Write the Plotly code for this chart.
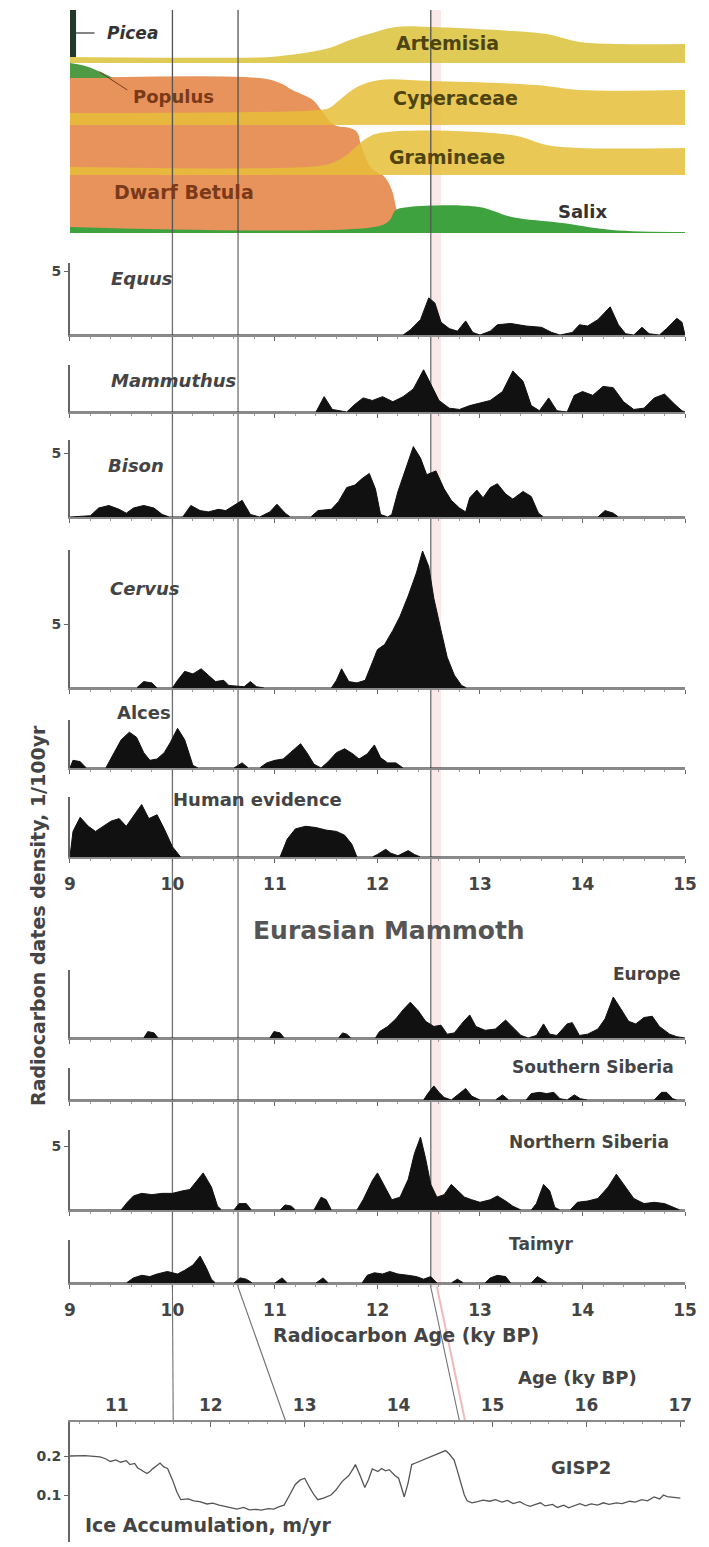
import plotly.graph_objects as go

# ---------------- data ----------------
c14_ticks = [9, 10, 11, 12, 13, 14, 15]
cal_ticks = [11, 12, 13, 14, 15, 16, 17]

# --- pollen diagram (age in 14C ky BP, thickness in diagram units) ---
betula_age = [9.0, 10.85, 11.05, 11.17, 11.37, 11.45, 11.58, 11.73, 11.80, 11.84, 11.94, 12.07, 12.14, 12.18, 12.21, 12.24]
betula_thk = [155, 155, 150, 143, 133, 123, 108, 105, 101, 88, 65, 56, 43, 26, 11, 0]

cyper_age = [9.0, 11.43, 11.53, 11.63, 11.80, 12.02, 12.51, 13.55, 13.97, 15.0]
cyper_thk = [12, 15, 17, 25, 38, 45, 44, 40, 35, 35]

gram_age = [9.0, 11.43, 11.58, 11.70, 11.87, 12.02, 13.31, 13.65, 13.97, 15.0]
gram_thk = [8, 9, 13, 20, 35, 42, 40, 30, 27, 27]

artem_age = [9.0, 10.95, 11.14, 11.34, 11.53, 11.73, 11.95, 12.18, 12.51, 13.31, 13.65, 13.97, 14.36, 15.0]
artem_thk = [6, 6, 8, 11, 15, 23, 30, 36, 36, 32, 29, 21, 19, 19]

salix_age = [9.0, 12.02, 12.12, 12.18, 12.31, 12.99, 13.31, 13.80, 14.29, 15.0]
salix_thk = [6, 7, 13, 23, 26, 26, 16, 10, 3, 1]

populus_age = [9.0, 9.15, 9.30, 9.42]
populus_thk = [15, 12, 6, 0]

picea_age = [9.0, 9.06]
picea_thk = [47, 47]

# --- radiocarbon date densities (dates / 100 yr) ---
equus_age = [9.0, 12.25, 12.32, 12.42, 12.5, 12.56, 12.62, 12.7, 12.78, 12.86, 12.93, 13.0, 13.1, 13.17, 13.3, 13.45, 13.6, 13.7, 13.78, 13.9, 13.97, 14.05, 14.15, 14.27, 14.35, 14.42, 14.5, 14.58, 14.65, 14.75, 14.82, 14.92, 14.97, 15.0]
equus_val = [0, 0, 0.4, 1.2, 2.9, 2.5, 1.0, 0.5, 0.3, 1.1, 0.2, 0, 0.3, 0.8, 0.9, 0.7, 0.6, 0.2, 0, 0.2, 0.8, 0.7, 1.2, 2.2, 0.8, 0.1, 0, 0.6, 0.1, 0, 0.5, 1.3, 1.0, 0]

mammuthus_age = [9.0, 11.4, 11.48, 11.56, 11.7, 11.78, 11.86, 11.95, 12.05, 12.15, 12.25, 12.35, 12.45, 12.52, 12.6, 12.7, 12.8, 12.9, 13.0, 13.1, 13.22, 13.32, 13.42, 13.5, 13.58, 13.67, 13.75, 13.85, 13.92, 14.0, 14.1, 14.2, 14.3, 14.4, 14.5, 14.6, 14.7, 14.8, 14.9, 14.97, 15.0]
mammuthus_val = [0, 0, 1.2, 0.2, 0, 0.6, 1.1, 0.9, 1.2, 0.8, 1.2, 1.8, 3.3, 2.2, 0.9, 0.3, 0.2, 0.5, 0.7, 0.9, 1.6, 3.2, 2.4, 0.5, 0.1, 1.1, 0.1, 0, 1.3, 1.6, 1.3, 2.0, 1.9, 0.8, 0.2, 0.3, 1.1, 1.4, 0.6, 0.1, 0]

bison_age = [9.0, 9.2, 9.28, 9.38, 9.48, 9.55, 9.62, 9.72, 9.82, 9.9, 9.97, 10.1, 10.18, 10.27, 10.35, 10.45, 10.52, 10.62, 10.68, 10.76, 10.85, 10.95, 11.02, 11.1, 11.15, 11.35, 11.42, 11.55, 11.62, 11.7, 11.78, 11.85, 11.92, 11.98, 12.03, 12.1, 12.14, 12.2, 12.27, 12.35, 12.42, 12.48, 12.57, 12.65, 12.72, 12.8, 12.86, 12.9, 12.97, 13.03, 13.1, 13.17, 13.25, 13.32, 13.42, 13.5, 13.57, 13.62, 14.15, 14.22, 14.3, 14.35, 15.0]
bison_val = [0, 0.1, 0.7, 0.9, 0.6, 0.3, 0.7, 0.9, 0.7, 0.2, 0, 0, 0.9, 0.5, 0.4, 0.6, 0.5, 1.0, 1.3, 0.2, 0, 0.4, 1.0, 0.3, 0, 0, 0.5, 0.6, 1.2, 2.3, 2.5, 3.0, 3.4, 2.2, 0.2, 0, 0.2, 2.0, 3.6, 5.5, 4.6, 3.3, 3.6, 2.2, 1.3, 0.7, 0.4, 1.5, 2.1, 1.5, 2.3, 2.6, 1.8, 1.4, 2.0, 1.6, 0.3, 0, 0, 0.5, 0.3, 0, 0]

cervus_age = [9.0, 9.65, 9.72, 9.8, 9.85, 10.0, 10.05, 10.12, 10.2, 10.28, 10.35, 10.42, 10.5, 10.55, 10.7, 10.76, 10.82, 10.9, 11.55, 11.6, 11.65, 11.72, 11.8, 11.88, 11.95, 12.0, 12.07, 12.15, 12.22, 12.3, 12.38, 12.44, 12.5, 12.55, 12.62, 12.68, 12.75, 12.82, 12.87, 15.0]
cervus_val = [0, 0, 0.5, 0.4, 0, 0, 0.6, 1.3, 1.1, 1.5, 1.0, 0.5, 0.6, 0.2, 0.1, 0.5, 0.1, 0, 0, 0.6, 1.5, 0.5, 0.4, 0.6, 2.0, 3.0, 3.4, 4.5, 5.6, 7.2, 9.0, 10.7, 9.5, 7.0, 4.5, 2.4, 1.0, 0.2, 0, 0]

alces_age = [9.0, 9.03, 9.1, 9.16, 9.35, 9.42, 9.5, 9.58, 9.65, 9.72, 9.78, 9.85, 9.92, 9.98, 10.05, 10.12, 10.2, 10.25, 10.6, 10.68, 10.74, 10.85, 10.92, 11.0, 11.08, 11.15, 11.25, 11.32, 11.38, 11.45, 11.52, 11.6, 11.68, 11.76, 11.82, 11.9, 11.97, 12.03, 12.1, 12.18, 12.25, 15.0]
alces_val = [0, 0.6, 0.5, 0, 0, 1.0, 2.2, 2.8, 2.4, 1.2, 0.6, 0.7, 1.2, 2.0, 3.1, 2.2, 0.2, 0, 0, 0.4, 0, 0, 0.4, 0.6, 0.7, 1.2, 1.9, 1.1, 0.3, 0, 0.5, 1.2, 1.5, 1.1, 0.7, 1.1, 1.8, 0.8, 0.4, 0.4, 0, 0]

human_age = [9.0, 9.03, 9.1, 9.18, 9.25, 9.33, 9.4, 9.48, 9.55, 9.62, 9.7, 9.77, 9.85, 9.92, 10.0, 10.08, 11.05, 11.12, 11.2, 11.3, 11.4, 11.5, 11.6, 11.68, 11.75, 11.8, 11.95, 12.0, 12.08, 12.13, 12.2, 12.3, 12.36, 12.42, 15.0]
human_val = [0, 2.0, 3.1, 2.4, 2.0, 2.4, 2.8, 3.0, 2.4, 3.2, 4.1, 3.0, 3.3, 2.2, 0.8, 0, 0, 1.4, 2.2, 2.4, 2.3, 2.1, 2.0, 1.7, 1.0, 0, 0, 0.2, 0.6, 0.3, 0.1, 0.5, 0.2, 0, 0]

europe_age = [9.0, 9.72, 9.76, 9.82, 9.86, 10.95, 10.99, 11.05, 11.09, 11.62, 11.66, 11.7, 11.74, 11.98, 12.02, 12.1, 12.18, 12.25, 12.32, 12.4, 12.47, 12.55, 12.62, 12.68, 12.75, 12.83, 12.9, 12.96, 13.05, 13.15, 13.25, 13.32, 13.4, 13.47, 13.55, 13.62, 13.68, 13.75, 13.85, 13.9, 13.97, 14.05, 14.15, 14.22, 14.3, 14.38, 14.45, 14.52, 14.6, 14.68, 14.75, 14.85, 14.92, 15.0]
europe_val = [0, 0, 0.5, 0.4, 0, 0, 0.5, 0.4, 0, 0, 0.4, 0.3, 0, 0, 0.5, 0.9, 1.5, 2.2, 2.8, 2.1, 1.3, 0.9, 1.0, 0.3, 0.4, 1.2, 1.8, 0.9, 0.6, 0.7, 1.4, 0.8, 0.2, 0, 0.2, 1.1, 0.3, 0.2, 1.1, 1.2, 0.2, 0.3, 0.7, 1.5, 3.2, 2.2, 1.3, 1.1, 1.6, 1.7, 0.9, 0.3, 0.1, 0]

ssib_age = [9.0, 12.45, 12.5, 12.55, 12.6, 12.65, 12.72, 12.8, 12.86, 12.92, 13.0, 13.15, 13.22, 13.28, 13.45, 13.5, 13.58, 13.65, 13.72, 13.78, 13.85, 13.92, 13.98, 14.05, 14.7, 14.77, 14.82, 14.88, 14.92, 15.0]
ssib_val = [0, 0, 0.6, 1.1, 0.6, 0.2, 0, 0.5, 0.9, 0.3, 0, 0, 0.4, 0, 0, 0.5, 0.6, 0.5, 0.6, 0.1, 0, 0.4, 0.1, 0, 0, 0.6, 0.6, 0.1, 0, 0]

nsib_age = [9.0, 9.5, 9.56, 9.62, 9.7, 9.8, 9.9, 10.0, 10.1, 10.17, 10.3, 10.38, 10.44, 10.48, 10.6, 10.65, 10.72, 10.77, 11.05, 11.1, 11.16, 11.2, 11.38, 11.45, 11.5, 11.55, 11.8, 11.86, 11.95, 12.0, 12.08, 12.14, 12.22, 12.3, 12.36, 12.42, 12.47, 12.52, 12.58, 12.65, 12.72, 12.78, 12.85, 12.92, 13.0, 13.1, 13.17, 13.25, 13.32, 13.4, 13.5, 13.55, 13.62, 13.68, 13.73, 13.78, 13.88, 13.95, 14.05, 14.15, 14.25, 14.33, 14.42, 14.5, 14.6, 14.7, 14.8, 14.9, 14.95, 15.0]
nsib_val = [0, 0, 0.6, 1.1, 1.3, 1.2, 1.3, 1.3, 1.5, 1.6, 2.9, 1.8, 0.3, 0, 0, 0.5, 0.5, 0, 0, 0.4, 0.3, 0, 0, 1.0, 0.8, 0, 0, 0.8, 2.3, 2.9, 1.7, 0.8, 1.0, 2.4, 4.4, 5.7, 4.0, 2.0, 1.0, 1.2, 2.0, 1.5, 1.0, 0.8, 0.6, 0.8, 1.1, 0.7, 0.3, 0, 0, 0.5, 2.0, 1.5, 0.2, 0, 0, 0.6, 0.7, 0.9, 1.8, 2.8, 1.8, 0.9, 0.5, 0.6, 0.5, 0.2, 0, 0]

taimyr_age = [9.0, 9.55, 9.62, 9.7, 9.78, 9.85, 9.95, 10.05, 10.12, 10.2, 10.27, 10.33, 10.38, 10.42, 10.6, 10.66, 10.72, 10.78, 11.0, 11.07, 11.12, 11.4, 11.47, 11.52, 11.85, 11.9, 11.97, 12.05, 12.12, 12.2, 12.3, 12.38, 12.45, 12.52, 12.58, 12.72, 12.78, 12.84, 13.05, 13.1, 13.17, 13.25, 13.3, 13.5, 13.56, 13.62, 13.66, 15.0]
taimyr_val = [0, 0, 0.4, 0.6, 0.5, 0.7, 0.9, 0.7, 1.0, 1.4, 2.1, 1.2, 0.3, 0, 0, 0.4, 0.3, 0, 0, 0.4, 0, 0, 0.4, 0, 0, 0.6, 0.8, 0.7, 0.9, 0.7, 0.6, 0.5, 0.3, 0.5, 0, 0, 0.3, 0, 0, 0.4, 0.6, 0.5, 0, 0, 0.5, 0.2, 0, 0]

# --- GISP2 ice accumulation (calendar ky BP, m/yr) ---
gisp_age = [10.50, 10.66, 10.82, 10.88, 10.93, 10.99, 11.04, 11.10, 11.14, 11.19, 11.22, 11.28, 11.32, 11.35, 11.38, 11.43, 11.46, 11.50, 11.54, 11.59, 11.64, 11.68, 11.76, 11.82, 11.88, 11.96, 12.02, 12.09, 12.16, 12.22, 12.28, 12.35, 12.41, 12.48, 12.54, 12.61, 12.67, 12.73, 12.78, 12.84, 12.90, 12.95, 13.00, 13.05, 13.10, 13.14, 13.20, 13.28, 13.33, 13.40, 13.47, 13.51, 13.54, 13.59, 13.64, 13.68, 13.72, 13.78, 13.82, 13.86, 13.90, 13.96, 14.00, 14.03, 14.06, 14.10, 14.14, 14.18, 14.22, 14.28, 14.32, 14.36, 14.41, 14.46, 14.50, 14.54, 14.59, 14.62, 14.66, 14.70, 14.73, 14.78, 14.84, 14.90, 14.97, 15.03, 15.10, 15.16, 15.22, 15.29, 15.35, 15.40, 15.46, 15.51, 15.56, 15.64, 15.69, 15.76, 15.81, 15.86, 15.93, 15.99, 16.05, 16.12, 16.18, 16.24, 16.32, 16.38, 16.46, 16.52, 16.59, 16.65, 16.72, 16.78, 16.82, 16.86, 16.93, 17.00]
gisp_acc = [0.200, 0.201, 0.198, 0.193, 0.186, 0.190, 0.184, 0.188, 0.178, 0.181, 0.170, 0.162, 0.155, 0.160, 0.167, 0.176, 0.182, 0.172, 0.168, 0.140, 0.107, 0.088, 0.090, 0.085, 0.083, 0.077, 0.079, 0.074, 0.070, 0.066, 0.064, 0.068, 0.062, 0.063, 0.061, 0.065, 0.064, 0.070, 0.074, 0.100, 0.127, 0.138, 0.143, 0.120, 0.100, 0.088, 0.092, 0.100, 0.112, 0.135, 0.150, 0.165, 0.178, 0.150, 0.119, 0.140, 0.167, 0.160, 0.168, 0.162, 0.165, 0.150, 0.143, 0.120, 0.095, 0.130, 0.178, 0.182, 0.186, 0.190, 0.196, 0.198, 0.205, 0.210, 0.214, 0.205, 0.190, 0.167, 0.130, 0.100, 0.085, 0.080, 0.083, 0.087, 0.084, 0.088, 0.082, 0.086, 0.078, 0.083, 0.075, 0.071, 0.076, 0.080, 0.072, 0.076, 0.068, 0.074, 0.067, 0.071, 0.078, 0.072, 0.077, 0.074, 0.080, 0.076, 0.080, 0.078, 0.084, 0.082, 0.088, 0.085, 0.095, 0.090, 0.100, 0.096, 0.094, 0.092]

# event lines: radiocarbon age and matching calendar age
tie_c14 = [10.0, 10.64, 12.52]
tie_cal = [11.6, 12.8, 14.65]

# ---------------- layout helpers ----------------
W, H = 709, 1547
FONT = "DejaVu Sans"
PLOT_L, PLOT_R = 70, 686      # horizontal extent of the age axes (reference px)
C14_RANGE = [9, 15]
CAL_RANGE = [10.5, 17.05]
UNIT_PX = 12.8
X_OFF, X_SCALE = 6.0, 0.976   # calibration of horizontal reference coordinates


def fx(p):
    return ((p - X_OFF) / X_SCALE) / W


def fy(p):
    return 1 - p / H


XDOM = [fx(PLOT_L), fx(PLOT_R)]


def c14_paper(v):
    return XDOM[0] + (v - C14_RANGE[0]) / (C14_RANGE[1] - C14_RANGE[0]) * (XDOM[1] - XDOM[0])


def cal_paper(v):
    return XDOM[0] + (v - CAL_RANGE[0]) / (CAL_RANGE[1] - CAL_RANGE[0]) * (XDOM[1] - XDOM[0])


fig = go.Figure()

# ---------------- pollen bands ----------------
ORANGE = "#E8935C"
YELLOW = "rgba(230,190,55,0.85)"
ARTEM = "rgba(222,200,78,0.95)"
GREEN = "#3EA33E"


def band(ages, thick, base, color, shape="spline"):
    fig.add_trace(go.Scatter(x=ages, y=[base] * len(ages), mode="lines",
                             line=dict(width=0, color=color), hoverinfo="skip",
                             showlegend=False, xaxis="x", yaxis="y"))
    fig.add_trace(go.Scatter(x=ages, y=[base + t for t in thick], mode="lines",
                             line=dict(width=0, color=color, shape=shape),
                             fill="tonexty", fillcolor=color, hoverinfo="skip",
                             showlegend=False, xaxis="x", yaxis="y"))


band(betula_age, betula_thk, 0, ORANGE)
band(cyper_age, cyper_thk, 108, YELLOW)
band(gram_age, gram_thk, 58, YELLOW)
band(artem_age, artem_thk, 170, ARTEM)
band(salix_age, salix_thk, 0, GREEN)
band(populus_age, populus_thk, 155, "#4E9A45")
band(picea_age, picea_thk, 176, "#23382a", shape="linear")

# ---------------- density panels ----------------
panels = [
    (equus_age, equus_val, 263, 335, True, False),
    (mammuthus_age, mammuthus_val, 365, 412, False, False),
    (bison_age, bison_val, 440, 517, True, False),
    (cervus_age, cervus_val, 550, 688, True, False),
    (alces_age, alces_val, 720, 768, False, False),
    (human_age, human_val, 797, 857, False, True),
    (europe_age, europe_val, 970, 1038, False, False),
    (ssib_age, ssib_val, 1068, 1100, False, False),
    (nsib_age, nsib_val, 1130, 1210, True, False),
    (taimyr_age, taimyr_val, 1240, 1283, False, True),
]

tickfont = dict(family=FONT, size=17, color="#444", weight="bold")
layout_axes = {}
layout_axes["xaxis"] = dict(domain=XDOM, range=C14_RANGE, visible=False, anchor="y", fixedrange=True)
layout_axes["yaxis"] = dict(domain=[fy(233), fy(8)], range=[0, 225], visible=False, anchor="x", fixedrange=True)

for i, (ages, vals, top, base, show5, showlbl) in enumerate(panels, start=2):
    fig.add_trace(go.Scatter(x=ages, y=vals, mode="lines", line=dict(color="#111", width=1),
                             fill="tozeroy", fillcolor="#111", hoverinfo="skip", showlegend=False,
                             xaxis=f"x{i}", yaxis=f"y{i}"))
    layout_axes[f"xaxis{i}"] = dict(
        domain=XDOM, range=C14_RANGE, anchor=f"y{i}", showline=True, linecolor="#8a8a8a",
        linewidth=1.5, ticks="outside", ticklen=4, tickwidth=1.3, tickcolor="#666",
        tickmode="array", tickvals=c14_ticks, showticklabels=showlbl, tickfont=tickfont,
        ticklabelstandoff=7, showgrid=False, zeroline=False, fixedrange=True,
        minor=dict(tick0=9, dtick=0.2, ticks="outside", ticklen=2, tickcolor="#9a9a9a"))
    layout_axes[f"yaxis{i}"] = dict(
        domain=[fy(base), fy(top)], range=[0, (base - top) / UNIT_PX], anchor=f"x{i}",
        showline=True, linecolor="#666", linewidth=1.5, tickmode="array",
        tickvals=[5] if show5 else [], ticktext=["5"] if show5 else [],
        ticks="outside" if show5 else "", ticklen=4, tickcolor="#666",
        tickfont=dict(family=FONT, size=14, color="#444", weight="bold"),
        showgrid=False, zeroline=False, fixedrange=True)

# ---------------- GISP2 ----------------
fig.add_trace(go.Scatter(x=gisp_age, y=gisp_acc, mode="lines", line=dict(color="#555", width=1.3),
                         hoverinfo="skip", showlegend=False, xaxis="x12", yaxis="y12"))
G_TOP, G_BOT = 1422, 1542
G_02, G_01 = 1456, 1495
g_per_px = 0.1 / (G_01 - G_02)
layout_axes["xaxis12"] = dict(
    domain=XDOM, range=CAL_RANGE, anchor="y12", side="top", showline=True, linecolor="#8a8a8a",
    linewidth=1.5, ticks="inside", ticklen=5, tickwidth=1.3, tickcolor="#666", tickmode="array",
    tickvals=cal_ticks, tickfont=tickfont, ticklabelstandoff=2, showgrid=False, zeroline=False,
    fixedrange=True, minor=dict(tick0=11, dtick=0.2, ticks="inside", ticklen=2, tickcolor="#9a9a9a"))
layout_axes["yaxis12"] = dict(
    domain=[fy(G_BOT), fy(G_TOP)],
    range=[0.1 - (G_BOT - G_01) * g_per_px, 0.2 + (G_02 - G_TOP) * g_per_px],
    anchor="x12", showline=True, linecolor="#666", linewidth=1.5, tickmode="array",
    tickvals=[0.1, 0.2], ticktext=["0.1", "0.2"], ticks="outside", ticklen=4, tickcolor="#666",
    tickfont=dict(family=FONT, size=14, color="#444", weight="bold"),
    showgrid=False, zeroline=False, fixedrange=True)

# ---------------- event lines ----------------
LINE_C = "#707070"
TOP_PX, POLLEN_BOT, DENS_BOT = 10, 233, 1287
shapes = []
shapes.append(dict(type="rect", xref="x", yref="paper", x0=tie_c14[2], x1=tie_c14[2] + 0.1,
                   y0=fy(DENS_BOT), y1=fy(TOP_PX), fillcolor="rgba(235,150,150,0.22)",
                   line=dict(width=0), layer="below"))
for c, k in zip(tie_c14, tie_cal):
    shapes.append(dict(type="line", xref="x", yref="paper", x0=c, x1=c, y0=fy(POLLEN_BOT), y1=fy(TOP_PX),
                       line=dict(color="#555", width=1.3), layer="above"))
    shapes.append(dict(type="line", xref="x", yref="paper", x0=c, x1=c, y0=fy(DENS_BOT), y1=fy(POLLEN_BOT),
                       line=dict(color=LINE_C, width=1.3), layer="below"))
    shapes.append(dict(type="line", xref="paper", yref="paper", x0=c14_paper(c), x1=cal_paper(k),
                       y0=fy(DENS_BOT), y1=fy(G_TOP), line=dict(color=LINE_C, width=1.1), layer="below"))
shapes.append(dict(type="line", xref="paper", yref="paper", x0=c14_paper(tie_c14[2] + 0.06),
                   x1=cal_paper(tie_cal[2] + 0.06), y0=fy(DENS_BOT), y1=fy(G_TOP),
                   line=dict(color="rgba(230,140,140,0.6)", width=2), layer="below"))
# label leader lines in pollen diagram
shapes.append(dict(type="line", xref="x", yref="y", x0=9.29, y0=161, x1=9.56, y1=143,
                   line=dict(color="#7a3a1a", width=1)))
shapes.append(dict(type="line", xref="x", yref="y", x0=9.06, y0=200, x1=9.24, y1=200,
                   line=dict(color="#333", width=1.2)))

# ---------------- labels ----------------
annotations = []


def label(text, xp, yp, size=16, color="#444", bold=True, italic=False, angle=0):
    annotations.append(dict(text=text, x=fx(xp), y=fy(yp), xref="paper", yref="paper", showarrow=False,
                            font=dict(family=FONT, size=size, color=color,
                                      weight="bold" if bold else "normal",
                                      style="italic" if italic else "normal"),
                            textangle=angle, xanchor="center", yanchor="middle"))


label("Picea", 133, 33, 17, "#333", italic=True)
label("Populus", 174, 96, 18, "#7a3a1a")
label("Dwarf Betula", 184, 192, 19, "#7a3a1a")
label("Artemisia", 448, 43, 19, "#4d4410")
label("Cyperaceae", 456, 98, 19, "#4d4410")
label("Gramineae", 448, 157, 19, "#4d4410")
label("Salix", 583, 212, 18, "#333")

label("Equus", 142, 278, 18, italic=True)
label("Mammuthus", 174, 380, 18, italic=True)
label("Bison", 136, 465, 18, italic=True)
label("Cervus", 145, 588, 18, italic=True)
label("Alces", 144, 713, 18)
label("Human evidence", 258, 799, 18)
label("Eurasian Mammoth", 390, 930, 25, "#555")
label("Europe", 647, 974, 17)
label("Southern Siberia", 594, 1067, 17)
label("Northern Siberia", 590, 1142, 17)
label("Taimyr", 542, 1244, 17)
label("Radiocarbon Age (ky BP)", 407, 1335, 19)
label("Age (ky BP)", 578, 1377, 18)
label("GISP2", 582, 1467, 18)
label("Ice Accumulation, m/yr", 208, 1525, 19)
label("Radiocarbon dates density, 1/100yr", 38, 915, 19, angle=-90)

fig.update_layout(width=W, height=H, autosize=False, margin=dict(l=0, r=0, t=0, b=0),
                  paper_bgcolor="white", plot_bgcolor="rgba(0,0,0,0)", showlegend=False,
                  shapes=shapes, annotations=annotations, **layout_axes)

fig.write_html("out.html", config={"displayModeBar": False},
               post_script="document.body.style.margin='0';document.body.style.overflow='hidden';")
